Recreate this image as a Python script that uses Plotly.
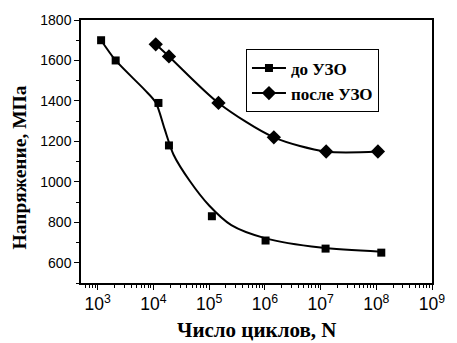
import plotly.graph_objects as go

# Fatigue test data: cycles to failure and stress amplitude, MPa
n_before = [1.15e3, 2.1e3, 1.23e4, 1.9e4, 1.12e5, 1.03e6, 1.23e7, 1.23e8]
s_before = [1700, 1600, 1390, 1180, 830, 710, 670, 650]

n_after = [1.1e4, 1.9e4, 1.47e5, 1.45e6, 1.26e7, 1.07e8]
s_after = [1680, 1620, 1390, 1220, 1150, 1150]

# Smoothed fatigue curve for the untreated specimens
n_fit_before = [1.15e3, 2.1e3, 6.9e3, 1.1e4, 1.58e4, 2.3e4, 4.5e4, 1e5, 2.5e5, 1e6, 1e7, 1.23e8]
s_fit_before = [1700, 1600, 1456, 1392, 1263, 1134, 1004, 883, 786, 722, 675, 655]

label_before = "до УЗО"
label_after = "после УЗО"
x_title = "Число циклов, N"
y_title = "Напряжение, МПа"

fig = go.Figure()

fig.add_trace(go.Scatter(
    x=n_fit_before, y=s_fit_before, mode="lines",
    line=dict(color="black", width=2, shape="spline", smoothing=0.8),
    showlegend=False, hoverinfo="skip"))
fig.add_trace(go.Scatter(
    x=n_before, y=s_before, mode="markers", name=label_before,
    marker=dict(symbol="square", size=8, color="black"),
    showlegend=False))
fig.add_trace(go.Scatter(
    x=n_after, y=s_after, mode="lines+markers", name=label_after,
    line=dict(color="black", width=2, shape="spline", smoothing=0.8),
    marker=dict(symbol="diamond", size=11, color="black"),
    showlegend=False))

# Legend entries (line + marker samples)
fig.add_trace(go.Scatter(
    x=[None], y=[None], mode="lines+markers", name="<b>%s</b>" % label_before,
    line=dict(color="black", width=2),
    marker=dict(symbol="square", size=8, color="black")))
fig.add_trace(go.Scatter(
    x=[None], y=[None], mode="lines+markers", name="<b>%s</b>" % label_after,
    line=dict(color="black", width=2),
    marker=dict(symbol="diamond", size=11, color="black")))

tick_font = dict(family="Liberation Sans, Arial", size=14, color="black")
serif = "Liberation Serif, Times New Roman"

fig.update_layout(
    width=457, height=343,
    margin=dict(l=81, r=12, t=16, b=60),
    paper_bgcolor="white", plot_bgcolor="white",
    legend=dict(
        x=0.47, y=0.888, xanchor="left", yanchor="top",
        bgcolor="white", bordercolor="black", borderwidth=1,
        font=dict(family=serif, size=17, color="black"),
        tracegroupgap=0, itemwidth=34),
    xaxis=dict(
        type="log", range=[2.7, 9], dtick=1, exponentformat="power",
        showgrid=False, zeroline=False,
        showline=True, linecolor="black", linewidth=1.5, mirror=True,
        ticks="outside", ticklen=5, tickwidth=1, tickcolor="black",
        minor=dict(ticks="outside", ticklen=3, tickcolor="black", showgrid=False),
        tickfont=tick_font),
    yaxis=dict(
        range=[500, 1800], dtick=200, tick0=0,
        showgrid=False, zeroline=False,
        showline=True, linecolor="black", linewidth=1.5, mirror=True,
        ticks="outside", ticklen=5, tickwidth=1, tickcolor="black",
        minor=dict(ticks="outside", ticklen=3, dtick=100, tickcolor="black", showgrid=False),
        tickfont=tick_font),
    annotations=[
        dict(text="<b>%s</b>" % x_title, xref="paper", yref="paper",
             x=0.5, y=-0.18, xanchor="center", yanchor="middle", showarrow=False,
             font=dict(family=serif, size=21, color="black")),
        dict(text="<b>%s</b>" % y_title, xref="paper", yref="paper",
             x=-0.176, y=0.44, xanchor="center", yanchor="middle", showarrow=False,
             textangle=-90, font=dict(family=serif, size=19.5, color="black")),
    ],
)

fig.write_html("out.html")
